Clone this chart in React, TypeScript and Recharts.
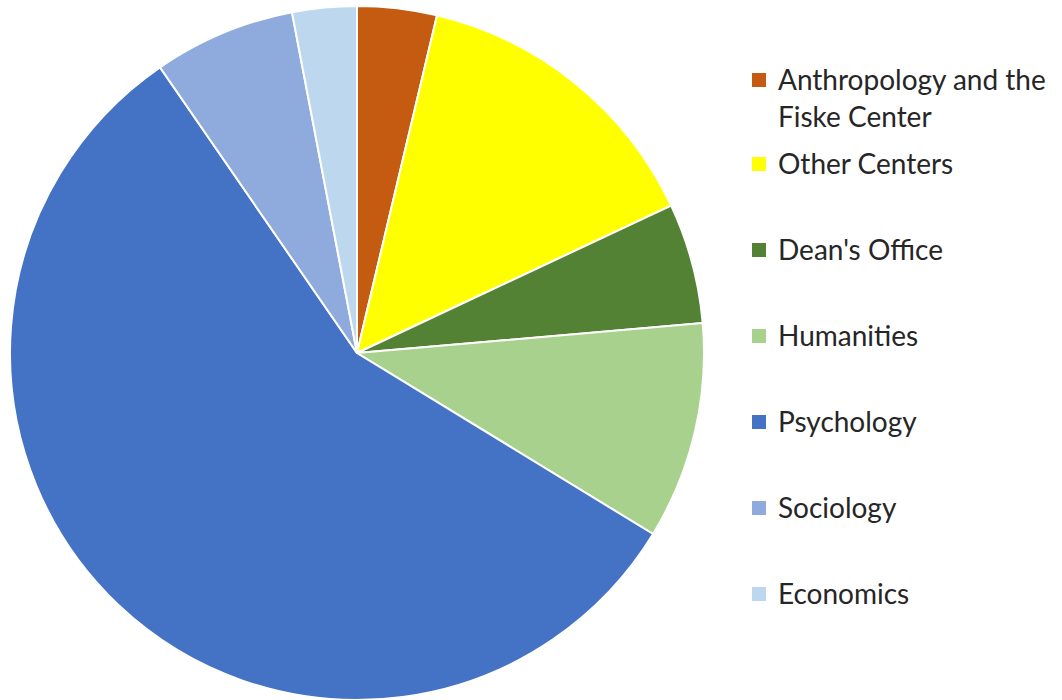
import React from "react";
import { Cell, Legend, Pie, PieChart } from "recharts";

const departments = [
  "Anthropology and the Fiske Center",
  "Other Centers",
  "Dean's Office",
  "Humanities",
  "Psychology",
  "Sociology",
  "Economics",
];
const shares = [3.7, 14.3, 5.6, 10.1, 56.6, 6.6, 3.0];
const colors = ["#C55A11", "#FFFF00", "#548235", "#A9D18E", "#4472C4", "#8FAADC", "#BDD7EE"];

const data = departments.map((name, i) => ({ name, value: shares[i] }));

// legend keeps the slice order instead of recharts' sorted payload
function LegendList() {
  return (
    <div style={{ fontFamily: "Lato, 'Open Sans', sans-serif", fontSize: 28, color: "#262626" }}>
      {departments.map((name, i) => (
        <div
          key={name}
          style={{
            display: "flex",
            alignItems: "flex-start",
            lineHeight: "37px",
            marginBottom: i === 0 ? 10 : 49,
            width: 310,
          }}
        >
          <span
            style={{
              display: "inline-block",
              width: 14,
              height: 14,
              background: colors[i],
              marginTop: 12,
              marginRight: 12,
              flexShrink: 0,
            }}
          />
          <span style={{ width: i === 0 ? 284 : undefined }}>{name}</span>
        </div>
      ))}
    </div>
  );
}

export default function App() {
  return (
    <div style={{ position: "absolute", left: 0, top: 0, background: "#fff" }}>
      <PieChart width={1062} height={700} margin={{ top: 0, right: 0, bottom: 0, left: 0 }}>
        <Pie
          data={data}
          dataKey="value"
          nameKey="name"
          cx={357}
          cy={353}
          outerRadius={347}
          startAngle={90}
          endAngle={-270}
          stroke="#fff"
          strokeWidth={2}
          isAnimationActive={false}
        >
          {data.map((d, i) => (
            <Cell key={d.name} fill={colors[i]} />
          ))}
        </Pie>
        <Legend
          layout="vertical"
          content={<LegendList />}
          wrapperStyle={{ position: "absolute", left: 752, top: 61, width: 310 }}
        />
      </PieChart>
    </div>
  );
}
